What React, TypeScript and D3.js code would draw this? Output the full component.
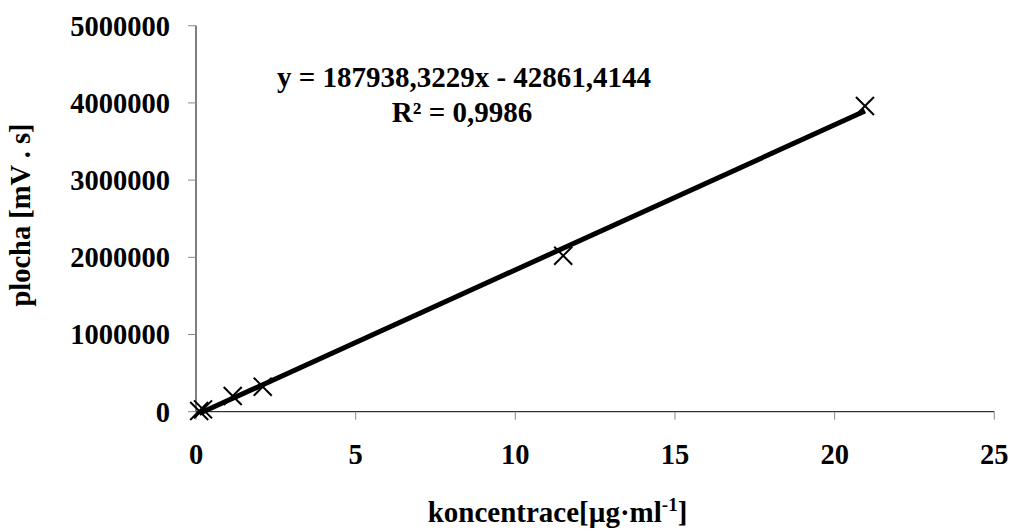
import React from "react";
import * as d3 from "d3";

// Calibration measurements
const concentrations = [0.1, 0.22, 1.15, 2.09, 11.5, 20.95];
const areas = [10000, 30000, 203000, 324000, 2021000, 3960000];

const xTicks = [0, 5, 10, 15, 20, 25];
const yTicks = [0, 1000000, 2000000, 3000000, 4000000, 5000000];

// Linear fit as reported on the chart
const slope = 187938.3229;
const intercept = -42861.4144;
const equationText = "y = 187938,3229x - 42861,4144";
const r2Text = "R² = 0,9986";

const W = 1012;
const H = 532;
const FONT = "'Liberation Serif', 'Times New Roman', serif";

export default function App() {
  const x = d3.scaleLinear().domain([0, 25]).range([196, 994.3]);
  const y = d3.scaleLinear().domain([0, 5000000]).range([411.7, 25.7]);

  const xMin = d3.min(concentrations) as number;
  const xMax = d3.max(concentrations) as number;
  const fitLine = d3
    .line<number>()
    .x((c) => x(c))
    .y((c) => y(slope * c + intercept));

  const m = 9;

  return (
    <svg
      width={W}
      height={H}
      style={{ position: "absolute", left: 0, top: 0, background: "#fff" }}
      fontFamily={FONT}
      fontWeight="bold"
    >
      <rect width={W} height={H} fill="#fff" />

      {/* y axis */}
      <line x1={x(0)} x2={x(0)} y1={y(5000000)} y2={y(0)} stroke="#000" strokeWidth={1} />
      {yTicks.map((t) => (
        <g key={"y" + t}>
          <line x1={x(0) - 8} x2={x(0)} y1={y(t)} y2={y(t)} stroke="#888" strokeWidth={1} />
          <text x={170} y={y(t)} dy="0.35em" textAnchor="end" fontSize={28.5}>
            {t}
          </text>
        </g>
      ))}

      {/* x axis */}
      <line x1={x(0)} x2={x(25)} y1={y(0)} y2={y(0)} stroke="#000" strokeWidth={1} />
      {xTicks.map((t) => (
        <g key={"x" + t}>
          <line x1={x(t)} x2={x(t)} y1={y(0)} y2={y(0) + 8} stroke="#888" strokeWidth={1} />
          <text x={x(t)} y={463.5} textAnchor="middle" fontSize={28.5}>
            {t}
          </text>
        </g>
      ))}

      {/* trendline */}
      <path d={fitLine([xMin, xMax]) || ""} fill="none" stroke="#000" strokeWidth={5} />

      {/* measured points */}
      {concentrations.map((c, i) => {
        const cx = x(c);
        const cy = y(areas[i]);
        return (
          <g key={"p" + i} stroke="#000" strokeWidth={2}>
            <line x1={cx - m} y1={cy - m} x2={cx + m} y2={cy + m} />
            <line x1={cx - m} y1={cy + m} x2={cx + m} y2={cy - m} />
          </g>
        );
      })}

      {/* equation */}
      <text x={464} y={87} textAnchor="middle" fontSize={29}>
        {equationText}
      </text>
      <text x={462} y={122} textAnchor="middle" fontSize={29}>
        {r2Text}
      </text>

      {/* axis titles */}
      <text x={557.5} y={522} textAnchor="middle" fontSize={29}>
        koncentrace[µg·ml
        <tspan dy={-11} fontSize={19}>
          -1
        </tspan>
        <tspan dy={11}>]</tspan>
      </text>
      <text
        transform={`translate(30, 215) rotate(-90)`}
        textAnchor="middle"
        fontSize={28.5}
      >
        plocha [mV . s]
      </text>
    </svg>
  );
}
